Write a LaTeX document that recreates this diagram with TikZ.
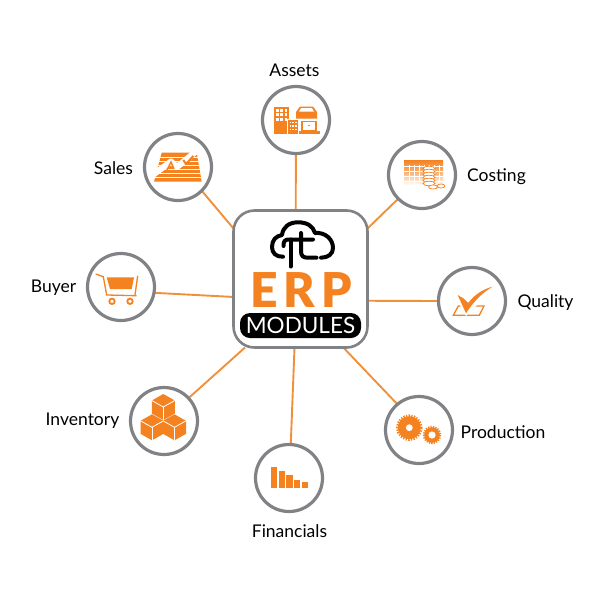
\documentclass[tikz,border=0pt]{standalone}
\usepackage{fontspec}
\setmainfont{Lato}
\newfontfamily\erpfont{Lato Black}
\usetikzlibrary{backgrounds}
\definecolor{erporange}{HTML}{F58220}
\definecolor{ringgray}{HTML}{808285}
\definecolor{linkorange}{HTML}{F0903A}
\tikzset{
  ring/.style={circle,draw=ringgray,line width=3.2pt,fill=white,minimum size=67pt,inner sep=0pt,outer sep=0pt},
  hubbox/.style={rectangle,draw=ringgray,line width=2.6pt,fill=white,rounded corners=21pt,minimum width=134pt,minimum height=137pt,outer sep=0pt},
  link/.style={draw=linkorange,line width=1.9pt},
  modlabel/.style={font=\fontsize{17.5}{20}\selectfont,text=black,inner sep=0pt},
  cloudline/.style={draw=black,line width=4pt,line cap=round,line join=round},
  iconline/.style={draw=erporange,line width=1.3pt},
  cutline/.style={draw=white,line width=.8pt}
}
\begin{document}
\begin{tikzpicture}[x=1pt,y=-1pt]
  \useasboundingbox (0,0) rectangle (600,600);
  \node[hubbox] (hub) at (300.5,279) {};
  \node[ring] (assets) at (296,120) {};
  \node[ring] (sales) at (178,167) {};
  \node[ring] (costing) at (422,175) {};
  \node[ring] (quality) at (472,301) {};
  \node[ring] (buyer) at (121,287) {};
  \node[ring] (inventory) at (164,421) {};
  \node[ring] (financials) at (289,478) {};
  \node[ring] (production) at (419,430) {};

  \begin{scope}[on background layer]
    \draw[link] (assets) -- (hub.94);
    \draw[link] (sales.-45) -- (hub.143);
    \draw[link] (costing.-135) -- (hub.37);
    \draw[link] (quality.180) -- (hub.-18);
    \draw[link] (buyer.-10) -- (hub.195);
    \draw[link] (inventory.43) -- (hub.231);
    \draw[link] (financials.87) -- (hub.265);
    \draw[link] (production.130) -- (hub.-58);
  \end{scope}

  \node[modlabel] (assetstext) at (294.5,70) {Assets};
  \node[modlabel] (salestext) at (113.5,168.5) {Sales};
  \node[modlabel] (costingtext) at (496.5,176.5) {Costing};
  \node[modlabel] (qualitytext) at (545.5,303) {Quality};
  \node[modlabel] (buyertext) at (53.5,288) {Buyer};
  \node[modlabel] (inventorytext) at (82.5,421) {Inventory};
  \node[modlabel] (financialstext) at (289.5,531) {Financials};
  \node[modlabel] (productiontext) at (503,432) {Production};

  \node[anchor=south,text=erporange,font=\erpfont\fontsize{48}{48}\selectfont,inner sep=0pt,text height=34pt,text depth=0pt] (erp) at (301,308) {E\kern6pt R\kern6pt P};
  \node[fill=black,text=white,rounded corners=10pt,minimum width=121pt,minimum height=25pt,inner sep=0pt,font=\fontsize{22.5}{22.5}\selectfont] (modules) at (300.5,325.5) {MODULES};

  \draw[cloudline] (283,256.7) .. controls (276,257) and (272,253) .. (272,247)
    .. controls (272,240) and (276,236) .. (282,235)
    .. controls (283,227) and (289,222.3) .. (298,222.3)
    .. controls (307,222.3) and (313,226) .. (315,233)
    .. controls (325,232) and (333,239) .. (333,248)
    .. controls (333,254) and (328,257.7) .. (321,257.7);
  \draw[cloudline] (283.5,246) .. controls (283.5,241) and (285,239.5) .. (289,239.5) -- (313,239.5);
  \draw[cloudline] (290.5,239.5) -- (290.5,266.5);
  \draw[cloudline] (301,233) -- (301,251) .. controls (301,256) and (303,257.7) .. (308,257.7) -- (316.5,257.7);

  \fill[erporange] (274,106.5) rectangle (288.5,134);
  \foreach\x in {276,280.3,284.6}{
    \foreach\y in {108.5,113,117.5}{
      \fill[white] (\x,\y) rectangle +(2.8,3.2);
    }
  }
  \fill[white] (286.8,118.5) rectangle (298.5,134.5);
  \fill[erporange] (288,119.5) rectangle (298,134);
  \foreach\x in {289.5,292.3,295.1}{
    \foreach\y in {121.5,125,128.5}{
      \fill[white] (\x,\y) rectangle +(1.6,1.9);
    }
  }
  \fill[erporange] (296,118.5) -- (296,112) -- (300,106.5) -- (313,106.5) -- (317,112) -- (317,118.5) -- cycle;
  \fill[white] (301,108.2) -- (312,108.2) -- (314,111.5) -- (299,111.5) -- cycle;
  \fill[erporange] (301,120.5) rectangle (317,131);
  \fill[white] (302.8,122.3) rectangle (315.2,129.5);
  \fill[erporange] (298.8,131) rectangle (319.5,134);
  \fill[erporange] (309,125.5) circle (.9);

  \fill[erporange] (161.7,152.7) -- (196.7,152.7) -- (201.7,181.7) -- (154,181.7) -- cycle;
  \foreach\y in {157,161,165,169,173,177}{
    \draw[draw=white,line width=.7pt] (152,\y) -- (204,\y);
  }
  \draw[draw=white,line width=6pt,line join=round] (150,177) -- (171,161.5) -- (177,167) -- (199,149);
  \draw[draw=erporange,line width=1.5pt] (167,170) -- (171,162) -- (174,169);
  \draw[draw=erporange,line width=2pt] (183.3,160) -- (186,164) -- (193.3,156);

  \shade[top color=erporange,bottom color=white,middle color=erporange!60!white] (404,160) rectangle (443,185);
  \foreach\x in {409,414,419,424,429,434,439}{
    \draw[draw=white,line width=.5pt] (\x,165) -- (\x,185);
  }
  \foreach\y in {166,171,176,181}{
    \draw[draw=white,line width=.5pt] (404,\y) -- (443,\y);
  }
  \foreach\y in {168.5,171.5,174.5,177.5,180.5,183.5}{
    \draw[draw=erporange,fill=white,line width=.7pt] (429,\y) ellipse (6 and 2.2);
  }
  \draw[draw=erporange,fill=white,line width=.7pt] (433,187) ellipse (4.5 and 2);
  \draw[draw=erporange,fill=white,line width=.7pt] (441,186) ellipse (4 and 2);

  \draw[iconline] (453.3,315.3) -- (458.3,306) -- (484,306) -- (479.3,315.3) -- cycle;
  \fill[white] (456,298) -- (466,316) -- (480,302) -- (470,296) -- cycle;
  \fill[erporange] (457.7,295) -- (463.3,298.3) -- (468.3,303) .. controls (474,295) and (483,289) .. (492.7,286.7)
    .. controls (483,292) and (473,302) .. (466,313.3) -- cycle;

  \draw[iconline] (95.7,274) -- (103.3,276.7) -- (106.7,295) -- (136.7,295.7);
  \draw[iconline] (137.7,275.7) -- (135,295);
  \fill[erporange] (106.7,277.3) -- (134,277.3) -- (131.7,289) -- (110,289) -- cycle;
  \draw[draw=erporange,line width=1.8pt] (112,301.3) circle (2.7);
  \draw[draw=erporange,line width=1.8pt] (130,301.3) circle (2.7);

  \foreach\x/\y in {163.3/407,152/427.3,174.5/427.3}{
    \fill[erporange] (\x,\y-13) -- (\x+11.5,\y-6.5) -- (\x+11.5,\y+6.5) -- (\x,\y+13) -- (\x-11.5,\y+6.5) -- (\x-11.5,\y-6.5) -- cycle;
    \draw[cutline] (\x-11.5,\y-6.5) -- (\x,\y) -- (\x+11.5,\y-6.5);
    \draw[cutline] (\x,\y) -- (\x,\y+13);
  }

  \foreach\x/\y in {271/467,278.8/471.3,286.3/475.3,294/480,301.7/482}{
    \fill[erporange] (\x,\y) rectangle +(6.2,488-\y);
  }

  \fill[erporange] (409.3,427.7) circle (11.5);
  \draw[draw=erporange,line width=3pt,dash pattern=on 1.3pt off 1.3pt] (409.3,427.7) circle (11.8);
  \fill[white] (409.3,427.7) circle (3.4);
  \fill[erporange] (432,435) circle (7.8);
  \draw[draw=erporange,line width=2.4pt,dash pattern=on 1.2pt off 1.2pt] (432,435) circle (8);
  \fill[white] (432,435) circle (3.6);
\end{tikzpicture}
\end{document}
